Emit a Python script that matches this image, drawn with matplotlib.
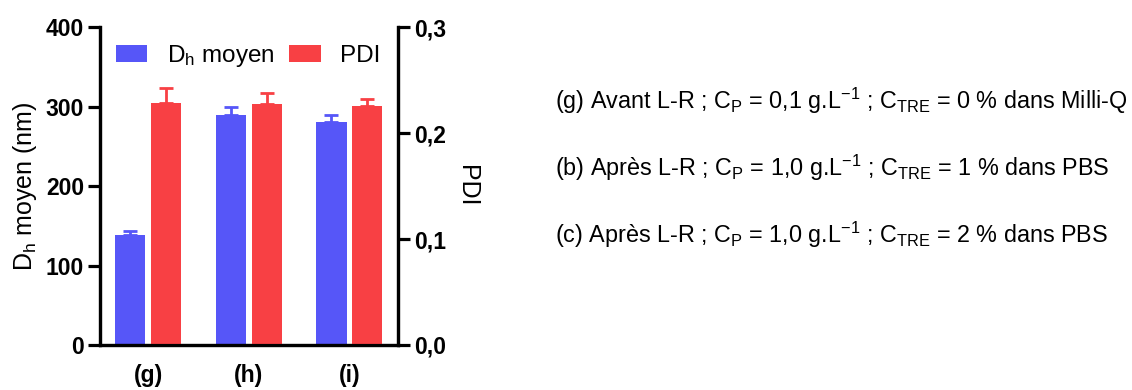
import numpy as np
import matplotlib
matplotlib.use("Agg")
import matplotlib.pyplot as plt
from matplotlib.ticker import FuncFormatter

plt.rcParams['font.family'] = ['Liberation Sans', 'DejaVu Sans']
plt.rcParams['mathtext.fontset'] = 'custom'
plt.rcParams['mathtext.rm'] = 'Liberation Sans'
plt.rcParams['mathtext.it'] = 'Liberation Sans'

# données
samples = ['(g)', '(h)', '(i)']
dh_mean = [138, 290, 280]
dh_err = [5, 10, 9]
pdi_mean = [0.228, 0.227, 0.226]
pdi_err = [0.015, 0.011, 0.006]
notes = [
    r'(g) Avant L-R ; C$_\mathrm{P}$ = 0,1 g.L$^{\mathrm{-1}}$ ; C$_\mathrm{TRE}$ = 0 % dans Milli-Q',
    r'(b) Après L-R ; C$_\mathrm{P}$ = 1,0 g.L$^{\mathrm{-1}}$ ; C$_\mathrm{TRE}$ = 1 % dans PBS',
    r'(c) Après L-R ; C$_\mathrm{P}$ = 1,0 g.L$^{\mathrm{-1}}$ ; C$_\mathrm{TRE}$ = 2 % dans PBS',
]

blue = '#5656F8'
red = '#F84044'

fig = plt.figure(figsize=(11.32, 3.9), dpi=100)
ax = fig.add_axes([0.0883, 0.1154, 0.263, 0.815])
ax2 = ax.twinx()

x = np.arange(len(samples))
w = 0.3
err_kw = dict(capsize=5, capthick=2, elinewidth=2)
b1 = ax.bar(x - 0.178, dh_mean, w, color=blue,
            yerr=[np.zeros(3), dh_err], error_kw=dict(ecolor=blue, **err_kw))
b2 = ax2.bar(x + 0.178, pdi_mean, w, color=red,
             yerr=[np.zeros(3), pdi_err], error_kw=dict(ecolor=red, **err_kw))

ax.set_xlim(-0.48, 2.48)
ax.set_ylim(0, 400)
ax2.set_ylim(0, 0.3)
ax.set_yticks([0, 100, 200, 300, 400])
ax2.set_yticks([0, 0.1, 0.2, 0.3])
ax2.yaxis.set_major_formatter(FuncFormatter(lambda v, p: f'{v:.1f}'.replace('.', ',')))
ax.set_xticks(x)
ax.set_xticklabels(samples)

for a in (ax, ax2):
    a.spines['top'].set_visible(False)
    for s in ('left', 'bottom', 'right'):
        a.spines[s].set_linewidth(2.3)
    a.tick_params(axis='y', width=2.3, length=8.5, labelsize=16.5, pad=3)
    for lab in a.get_yticklabels():
        lab.set_fontweight('bold')
ax.tick_params(axis='x', length=0, labelsize=16.5, pad=14)
for lab in ax.get_xticklabels():
    lab.set_fontweight('bold')

ax.set_ylabel(r'D$_\mathrm{h}$ moyen (nm)', fontsize=18, labelpad=5)
ax2.set_ylabel('PDI', fontsize=18, rotation=270, labelpad=24)

ax.legend([b1, b2], [r'D$_\mathrm{h}$ moyen', 'PDI'], ncol=2, frameon=False,
          loc='upper left', bbox_to_anchor=(0.0, 1.0), fontsize=17.5,
          handlelength=1.3, handleheight=0.75, columnspacing=0.6, handletextpad=0.8,
          borderaxespad=0.25)

for i, t in enumerate(notes):
    fig.text(0.49, 0.741 - i * 0.172, t, fontsize=16.8, va='center', ha='left')

fig.savefig('out.png', dpi=100)
